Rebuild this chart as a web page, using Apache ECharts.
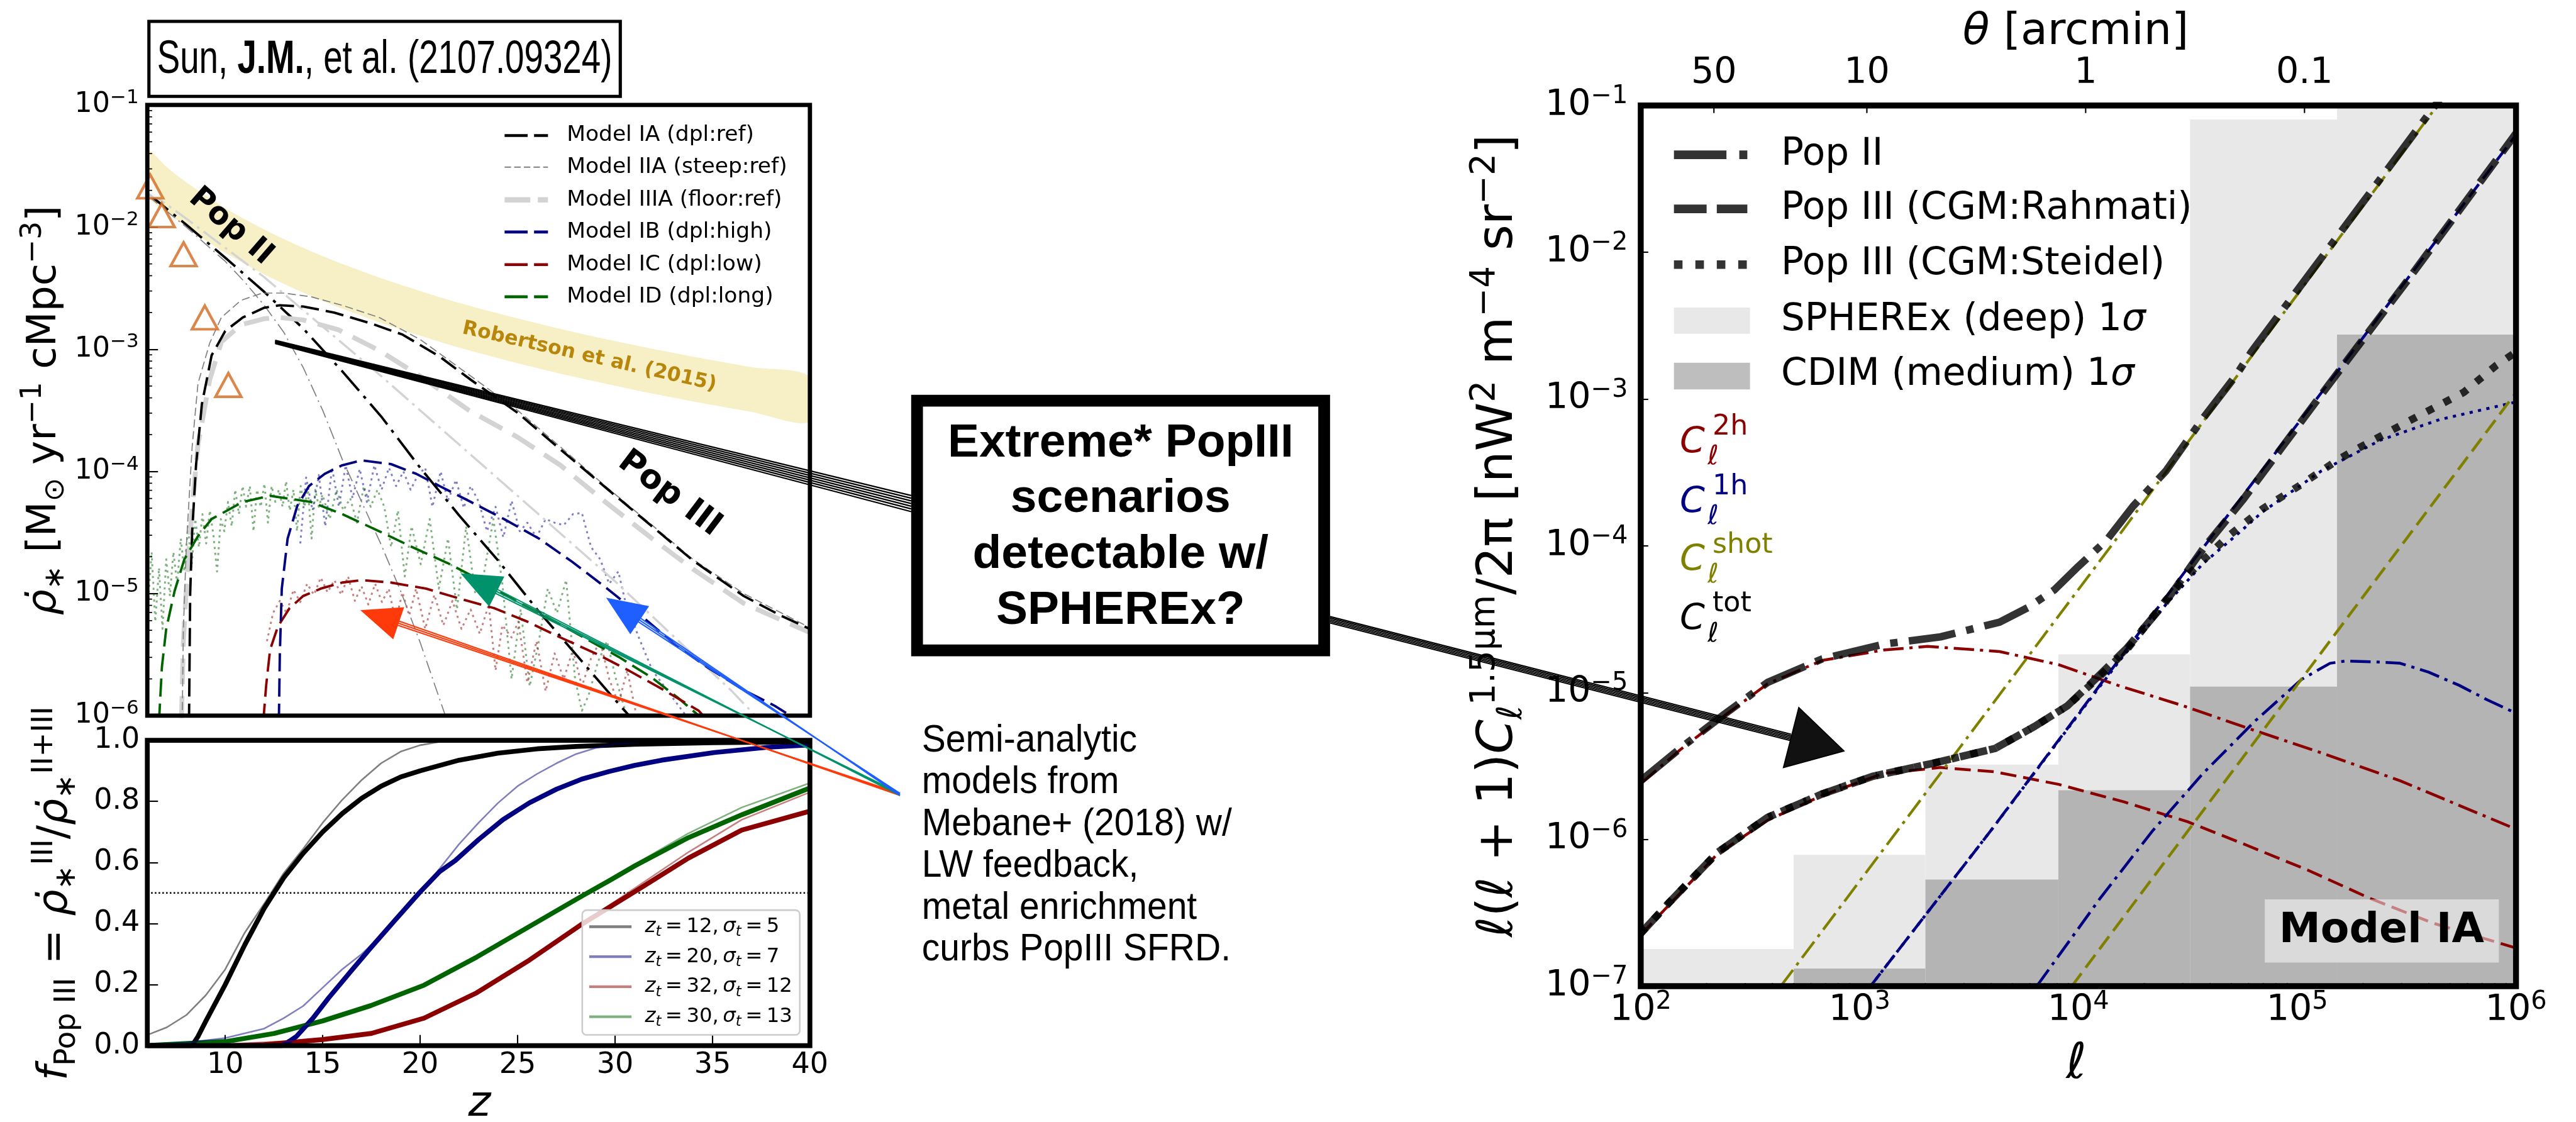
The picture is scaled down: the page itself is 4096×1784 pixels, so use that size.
<!DOCTYPE html>
<html>
<head>
<meta charset="utf-8">
<script src="https://cdn.jsdelivr.net/npm/echarts@6.0.0/dist/echarts.min.js"></script>
<style>
html,body{margin:0;padding:0;background:#ffffff;}
#chart{width:4096px;height:1784px;}
</style>
</head>
<body>
<div id="chart"></div>
<script>
// ================= DATA =================
// ---- Left-top panel: SFRD [M_sun yr^-1 cMpc^-3] vs z ; curves stored as [z, log10(rho_dot)] ----
const zRobertson = [6,7,8,9,10,11,12,13,14,15,16,18,20,22,25,28,31,34,37,40];
const robertsonUpper = [0.0426,0.031,0.0233,0.0181,0.0143,0.0116,0.00956,0.0080,0.00677,0.00579,0.0050,0.00382,0.0030,0.0024,0.00179,0.00137,0.00108,0.00087,0.000713,0.000594];
const robertsonLower = [0.0183,0.0133,0.0100,0.00777,0.00616,0.00499,0.00411,0.00344,0.00291,0.00249,0.00215,0.00164,0.00129,0.00103,0.000769,0.00059,0.000465,0.000374,0.000307,0.000255];
const obsTriangles = [[6.15,0.0215],[6.74,0.0125],[7.86,0.0060],[8.95,0.00182],[10.16,0.00051]];

const popII_IA   = [[6,-1.72],[8,-1.98],[10,-2.25],[12,-2.53],[14,-2.83],[16,-3.18],[18,-3.55],[20,-3.97],[22,-4.36],[24,-4.73],[26,-5.13],[28,-5.50],[30,-5.87],[31,-6.05]];
const popII_IIA  = [[6,-1.74],[8,-2.0],[10,-2.28],[11,-2.45],[12,-2.64],[13,-2.86],[14,-3.15],[15,-3.5],[16,-3.9],[17,-4.25],[18,-4.6],[19,-4.98],[20,-5.4],[21.4,-6.05]];
const popII_IIIA = [[6,-1.70],[8,-1.93],[10,-2.17],[12,-2.41],[14,-2.68],[16,-2.95],[18,-3.22],[20,-3.5],[22,-3.78],[24,-4.06],[26,-4.34],[28,-4.62],[30,-4.9],[32,-5.2],[34,-5.5],[36,-5.8],[37.5,-6.05]];

const popIII_IA   = [[8.14,-6.05],[8.2,-5.0],[8.3,-4.5],[8.5,-3.95],[8.8,-3.45],[9.3,-3.05],[10,-2.85],[10.9,-2.74],[12,-2.66],[12.8,-2.64],[14,-2.65],[15.6,-2.70],[17.5,-2.79],[19.1,-2.88],[21,-3.06],[22.6,-3.25],[25,-3.52],[27.2,-3.82],[29.5,-4.13],[31.9,-4.45],[34,-4.73],[36.6,-5.02],[38.5,-5.18],[40,-5.29]];
const popIII_IIA  = [[7.79,-6.05],[7.85,-5.3],[8.0,-4.62],[8.3,-3.8],[8.6,-3.28],[9.2,-2.95],[9.8,-2.74],[10.8,-2.6],[11.9,-2.54],[13,-2.54],[14.4,-2.57],[16,-2.64],[17.9,-2.74],[20,-2.92],[22.6,-3.22],[25,-3.5],[27.2,-3.8],[29.5,-4.12],[31.9,-4.44],[34,-4.72],[36.6,-5.0],[40,-5.28]];
const popIII_IIIA = [[7.75,-6.05],[7.85,-5.4],[8.0,-4.96],[8.3,-4.3],[8.6,-3.78],[9.2,-3.25],[9.8,-2.94],[10.8,-2.8],[12,-2.75],[12.8,-2.74],[14,-2.76],[15.8,-2.84],[17.9,-3.01],[20,-3.22],[22.5,-3.5],[25,-3.72],[27.2,-3.95],[29.5,-4.25],[31.9,-4.55],[34,-4.8],[36.6,-5.08],[40,-5.32]];
const popIII_IB = [[12.75,-6.05],[12.8,-5.5],[12.9,-4.96],[13.2,-4.55],[13.7,-4.28],[14.3,-4.12],[15.1,-4.02],[16,-3.95],[17,-3.91],[18.5,-3.94],[19.8,-4.02],[21,-4.12],[22.6,-4.25],[24.3,-4.39],[26.1,-4.55],[27.8,-4.74],[29.6,-4.96],[31.4,-5.19],[33.1,-5.42],[34.8,-5.61],[36.6,-5.79],[38.2,-5.92],[39.5,-6.05]];
const popIII_IC = [[11.95,-6.05],[12.1,-5.75],[12.3,-5.46],[12.7,-5.27],[13.3,-5.12],[14.0,-5.02],[14.9,-4.96],[16,-4.91],[17,-4.89],[18.5,-4.91],[20.3,-4.96],[22,-5.04],[23.8,-5.12],[25.5,-5.23],[27.2,-5.36],[29,-5.49],[30.7,-5.63],[32.5,-5.79],[34.3,-5.96],[34.8,-6.05]];
const popIII_ID = [[6.6,-6.05],[6.75,-5.6],[6.97,-5.29],[7.4,-4.98],[7.9,-4.72],[8.6,-4.53],[9.3,-4.39],[10.9,-4.25],[12.3,-4.20],[14.4,-4.25],[16,-4.35],[17.9,-4.49],[19.6,-4.62],[21.4,-4.75],[23.2,-4.9],[24.9,-5.06],[26.6,-5.2],[28.4,-5.36],[30.2,-5.52],[31.9,-5.69],[33.2,-5.85],[34.3,-6.0],[34.6,-6.05]];

const dotBlue = [[13.85,-4.59],[14.15,-4.05],[14.48,-4.32],[14.80,-4.03],[15.13,-4.45],[15.48,-3.97],[15.83,-4.29],[16.18,-3.95],[16.53,-4.22],[16.90,-3.98],[17.27,-4.25],[17.65,-3.95],[18.02,-4.15],[18.40,-3.97],[18.77,-4.12],[19.14,-4.00],[19.51,-4.15],[19.89,-4.03],[20.26,-3.97],[20.63,-4.29],[21.05,-4.00],[21.42,-4.24],[21.84,-4.07],[22.24,-4.30],[22.59,-4.12],[23.01,-4.25],[23.43,-4.49],[23.87,-4.29],[24.27,-4.54],[24.69,-4.24],[25.11,-4.49],[25.50,-4.42],[25.97,-4.54],[26.44,-4.39],[26.90,-4.42],[27.37,-4.44],[27.84,-4.35],[28.30,-4.34],[28.77,-4.62],[29.24,-4.72],[29.70,-4.92],[30.17,-4.82],[30.52,-5.06],[31.22,-5.36],[31.92,-5.63],[32.85,-5.83],[33.78,-6.03]];
const dotRed = [[12.14,-5.39],[12.45,-5.16],[12.80,-5.06],[13.15,-5.16],[13.50,-4.97],[13.85,-5.07],[14.20,-4.92],[14.55,-5.01],[14.90,-4.87],[15.25,-4.99],[15.60,-4.89],[15.95,-5.01],[16.30,-4.86],[16.65,-5.06],[16.99,-4.94],[17.34,-5.09],[17.69,-4.92],[18.04,-5.07],[18.39,-4.96],[18.74,-5.23],[19.09,-4.99],[19.44,-5.18],[19.79,-4.96],[20.26,-5.29],[20.73,-5.01],[21.19,-5.26],[21.66,-5.06],[22.12,-5.29],[22.59,-5.13],[23.06,-5.33],[23.52,-5.09],[23.87,-5.63],[24.22,-5.26],[24.69,-5.36],[25.04,-5.23],[25.50,-5.73],[25.97,-5.39],[26.44,-5.80],[26.90,-5.49],[27.37,-5.70],[27.84,-5.46],[28.30,-5.76],[28.77,-5.53],[29.24,-5.39],[29.70,-5.70],[30.17,-5.90],[30.63,-5.63],[31.10,-6.0]];
const dotGreen = [[6.04,-5.09],[6.22,-4.66],[6.41,-5.23],[6.60,-4.79],[6.78,-5.29],[6.97,-4.72],[7.16,-5.02],[7.34,-4.66],[7.53,-4.92],[7.72,-4.55],[7.90,-4.82],[8.09,-4.45],[8.27,-4.79],[8.46,-4.39],[8.65,-4.62],[8.83,-4.35],[9.02,-4.59],[9.21,-4.32],[9.39,-4.52],[9.58,-4.82],[9.77,-4.39],[9.95,-4.49],[10.14,-4.25],[10.33,-4.45],[10.51,-4.15],[10.70,-4.35],[10.89,-4.12],[11.07,-4.29],[11.26,-4.12],[11.45,-4.49],[11.63,-4.15],[11.82,-4.29],[12.01,-4.10],[12.19,-4.42],[12.38,-4.12],[12.57,-4.25],[12.75,-4.15],[12.94,-4.29],[13.12,-4.08],[13.31,-4.32],[13.50,-4.15],[13.68,-4.49],[13.87,-4.12],[14.06,-4.29],[14.24,-4.15],[14.43,-4.55],[14.62,-4.15],[14.80,-4.29],[14.99,-4.19],[15.36,-4.39],[15.71,-4.15],[16.06,-4.32],[16.41,-4.22],[16.76,-4.42],[17.11,-4.12],[17.46,-4.29],[17.81,-4.15],[18.16,-4.29],[18.51,-4.62],[18.86,-4.32],[19.21,-4.86],[19.56,-4.45],[20.03,-4.76],[20.49,-4.39],[20.96,-4.96],[21.43,-4.55],[21.89,-5.13],[22.36,-4.45],[22.82,-4.99],[23.29,-4.82],[23.76,-4.39],[24.22,-4.92],[24.69,-5.70],[25.16,-5.13],[25.62,-5.76],[26.09,-5.39],[26.55,-4.96],[27.02,-5.16],[27.49,-4.89],[27.95,-5.70],[28.30,-5.96],[28.65,-5.83],[29.12,-5.56],[29.59,-5.39],[30.05,-5.70],[30.52,-5.96]];

// ---- Left-bottom panel: f_PopIII vs z ; [z, f] ----
const fracThinGray  = [[6,0.035],[7,0.06],[8,0.10],[9,0.165],[10,0.25],[11,0.37],[12,0.465],[13,0.565],[14,0.645],[15,0.73],[16,0.805],[17,0.87],[18,0.925],[19,0.963],[20,0.984],[21,0.995],[22,1.0],[40,1.0]];
const fracThinBlue  = [[6,0.005],[8,0.01],[10,0.025],[12,0.056],[13,0.09],[14,0.13],[15,0.19],[16,0.25],[17,0.3],[18,0.36],[19,0.43],[20,0.5],[21,0.58],[22,0.66],[23,0.73],[24,0.795],[25,0.85],[26,0.89],[27,0.925],[28,0.955],[29,0.975],[30,0.988],[32,0.997],[34,1.0],[40,1.0]];
const fracThinRed   = [[6,0.002],[10,0.005],[15,0.02],[17.5,0.04],[20.2,0.09],[22.9,0.173],[25.6,0.28],[28.3,0.40],[31,0.515],[33.8,0.635],[36.5,0.74],[40,0.83]];
const fracThinGreen = [[6,0.005],[10,0.016],[12.5,0.042],[15,0.083],[17.5,0.133],[20.2,0.2],[22.9,0.292],[25.6,0.392],[28.3,0.492],[31.05,0.595],[33.76,0.695],[36.5,0.78],[40,0.86]];
const fracIA = [[6,0],[8.3,0],[8.6,0.03],[9,0.08],[10,0.2],[11,0.33],[12,0.45],[13,0.55],[14,0.63],[15,0.70],[16,0.76],[17,0.81],[18,0.85],[19,0.88],[20,0.90],[22,0.935],[24,0.958],[26,0.972],[28,0.98],[31,0.987],[35,0.992],[40,0.995]];
const fracIB = [[6,0],[12.9,0],[13.3,0.015],[13.65,0.03],[14.5,0.09],[15.3,0.156],[16.4,0.24],[17.46,0.32],[18.7,0.41],[19.95,0.5],[21,0.57],[21.8,0.606],[23,0.675],[24.25,0.74],[25.6,0.795],[27,0.84],[28.3,0.873],[29.7,0.898],[31,0.918],[32.4,0.935],[35.1,0.96],[37.8,0.977],[40,0.985]];
const fracIC = [[10.4,0],[12,0.003],[15,0.02],[17.5,0.04],[20.2,0.09],[22.9,0.173],[25.6,0.28],[28.3,0.398],[31.05,0.506],[33.76,0.614],[36.5,0.706],[40,0.768]];
const fracID = [[6,0],[6.5,0.002],[10.1,0.014],[12.5,0.04],[15,0.081],[17.46,0.131],[20.2,0.198],[22.9,0.29],[25.6,0.39],[28.3,0.49],[29.7,0.54],[31.05,0.59],[33.76,0.681],[36.5,0.756],[40,0.844]];
const fracHalf = [[6,0.5],[40,0.5]];

// ---- Right panel: l(l+1)C_l/2pi vs l ; curves stored as [log10(l), log10(value)] ----
const popII_tot = [[2.0,-5.60],[2.18,-5.38],[2.38,-5.15],[2.58,-4.93],[2.83,-4.77],[3.11,-4.67],[3.37,-4.62],[3.64,-4.52],[3.77,-4.42],[3.89,-4.30],[4.0,-4.14],[4.13,-3.96],[4.25,-3.73],[4.40,-3.49],[4.57,-3.13],[4.72,-2.84],[4.79,-2.68],[5.0,-2.26],[5.3,-1.66],[5.65,-0.96]];
const popII_2h  = [[2.0,-5.62],[2.18,-5.39],[2.38,-5.16],[2.58,-4.94],[2.83,-4.78],[3.11,-4.71],[3.31,-4.685],[3.64,-4.72],[3.91,-4.81],[4.18,-4.95],[4.48,-5.09],[4.75,-5.23],[5.11,-5.41],[5.47,-5.60],[6.0,-5.93]];
const popII_1h  = [[3.81,-7.0],[4.10,-6.4],[4.34,-5.94],[4.57,-5.55],[4.81,-5.19],[5.02,-4.91],[5.15,-4.80],[5.22,-4.785],[5.35,-4.79],[5.47,-4.80],[5.60,-4.86],[5.74,-4.95],[5.87,-5.05],[6.0,-5.14]];
const popII_shot = [[2.64,-7.0],[4.16,-3.98],[5.65,-0.98]];
const popIII_R_tot = [[2.0,-6.64],[2.13,-6.43],[2.35,-6.09],[2.58,-5.85],[2.83,-5.69],[3.06,-5.57],[3.34,-5.48],[3.62,-5.38],[3.80,-5.23],[3.95,-5.09],[4.09,-4.89],[4.22,-4.70],[4.40,-4.38],[4.57,-4.02],[4.75,-3.69],[4.93,-3.33],[5.11,-2.97],[5.5,-2.2],[6.0,-1.19]];
const popIII_R_2h  = [[2.0,-6.65],[2.35,-6.10],[2.58,-5.87],[2.83,-5.70],[3.11,-5.55],[3.37,-5.51],[3.62,-5.54],[3.91,-5.625],[4.21,-5.745],[4.50,-5.88],[4.77,-6.04],[5.05,-6.21],[5.33,-6.40],[5.62,-6.57],[6.0,-6.74]];
const popIII_R_1h  = [[3.05,-7.0],[3.6,-5.94],[4.5,-4.15],[5.17,-2.84],[6.0,-1.20]];
const popIII_shot  = [[3.97,-7.0],[5.51,-3.93],[6.0,-2.955]];
const popIII_S_tot = [[2.0,-6.64],[2.13,-6.43],[2.35,-6.09],[2.58,-5.85],[2.83,-5.69],[3.06,-5.57],[3.34,-5.48],[3.62,-5.38],[3.80,-5.23],[3.95,-5.09],[4.09,-4.90],[4.22,-4.71],[4.40,-4.37],[4.50,-4.20],[4.68,-3.94],[4.84,-3.75],[5.01,-3.59],[5.18,-3.42],[5.26,-3.35],[5.51,-3.15],[5.76,-2.955],[5.91,-2.77],[6.0,-2.68]];
const popIII_S_1h  = [[3.05,-7.0],[3.6,-5.94],[4.0,-5.15],[4.2,-4.76],[4.4,-4.40],[4.57,-4.12],[4.72,-3.93],[4.84,-3.77],[5.11,-3.49],[5.38,-3.28],[5.65,-3.14],[6.0,-3.02]];
// sensitivity boxes: [l_min, l_max, upper value]
const spherexBins = [[100,500,1.79e-7],[500,2000,7.85e-7],[2000,8100,3.23e-6],[8100,32400,1.82e-5],[32400,152000,0.0804],[152000,1e6,0.1]];
const cdimBins    = [[500,2000,1.32e-7],[2000,8100,5.33e-7],[8100,32400,2.16e-6],[32400,152000,1.10e-5],[152000,1e6,2.75e-3]];
// top axis: theta [arcmin] tick labels ; l = 10800 / theta (pi rad = 10800 arcmin)
const thetaTicks = [50, 10, 1, 0.1];
const ARCMIN_PER_PI = 10800;

// ---- Text ----
const legendLeftLabels = ['Model IA (dpl:ref)','Model IIA (steep:ref)','Model IIIA (floor:ref)','Model IB (dpl:high)','Model IC (dpl:low)','Model ID (dpl:long)'];
const legendFracLabels = [['12','5'],['20','7'],['32','12'],['30','13']];
const legendRightLabels = ['Pop II','Pop III (CGM:Rahmati)','Pop III (CGM:Steidel)','SPHEREx (deep) 1','CDIM (medium) 1'];
const semiText = ['Semi-analytic','models from','Mebane+ (2018) w/','LW feedback,','metal enrichment','curbs PopIII SFRD.'];
const boxText = ['Extreme* PopIII','scenarios','detectable w/','SPHEREx?'];

// ================= RENDERING =================
const S = 4096 / 4809;
const px = v => v * S;
const FONT = 'DejaVu Sans';
const LIB = 'Liberation Sans';
const GR = {
  sfrd: {l:275, t:196, w:1237, h:1140},
  frac: {l:275, t:1382, w:1237, h:570},
  cl:   {l:3063, t:197, w:1634, h:1644}
};
const Y_MIN_R = 1e-7, Y_MAX_R = 1e-1, Z_MIN = 6;

const toZ = a => a.map(p => [p[0], Math.pow(10, p[1])]);
const toL = a => a.map(p => [Math.pow(10, p[0]), Math.pow(10, p[1])]);

function line(data, xi, yi, color, w, dash, z) {
  return {type:'line', xAxisIndex:xi, yAxisIndex:yi, data, showSymbol:false, symbol:'none', silent:true,
    animation:false, clip:true, z:z||3, emphasis:{disabled:true},
    lineStyle:{color, width:px(w), type: dash ? dash.map(px) : 'solid', cap:'butt', join:'round'}};
}
function logLabel(v){ const e = Math.round(Math.log10(v)); return '{b|10}{s|' + (e < 0 ? '\u2212' + (-e) : String(e)) + '}'; }
function logRich(F){ return { b:{fontSize:F, lineHeight:F*1.2, fontFamily:FONT, color:'#000'}, s:{fontSize:F*0.7, lineHeight:F*0.6, verticalAlign:'top', fontFamily:FONT, color:'#000'} }; }
function gRich(F, fam){
  fam = fam || FONT;
  const base = {fontFamily:fam, fill:'#000'};
  return {
    r:  Object.assign({fontSize:F, lineHeight:F*1.25}, base),
    i:  Object.assign({fontSize:F, lineHeight:F*1.25, fontStyle:'italic'}, base),
    b:  Object.assign({fontSize:F, lineHeight:F*1.25, fontWeight:'bold'}, base),
    sp: Object.assign({fontSize:F*0.7, lineHeight:F*0.62, verticalAlign:'top'}, base),
    sb: Object.assign({fontSize:F*0.7, lineHeight:F*0.62, verticalAlign:'bottom'}, base),
    sbi:Object.assign({fontSize:F*0.7, lineHeight:F*0.62, verticalAlign:'bottom', fontStyle:'italic'}, base)
  };
}
const tickStyle = {color:'#000', width:px(2.5)};
const noLine = {show:false};

function minorTicks(xi, yi, values, dir, len) {
  return {type:'custom', xAxisIndex:xi, yAxisIndex:yi, clip:false, silent:true, z:6,
    data: values,
    renderItem: (p, api) => {
      const c = api.coord([api.value(0), api.value(1)]);
      const sh = dir === 'y' ? {x1:c[0], y1:c[1], x2:c[0] + px(len), y2:c[1]} : {x1:c[0], y1:c[1], x2:c[0], y2:c[1] - px(len)};
      return {type:'line', shape:sh, style:{stroke:'#000', lineWidth:px(2)}};
    }};
}
const minorY0 = [], minorX2 = [];
for (let e = -6; e <= -2; e++) for (let m = 2; m <= 9; m++) minorY0.push([Z_MIN, m * Math.pow(10, e)]);
for (let e = 2; e <= 5; e++) for (let m = 2; m <= 9; m++) minorX2.push([m * Math.pow(10, e), Y_MIN_R]);

function boxSeries(bins, color) {
  return {type:'custom', xAxisIndex:2, yAxisIndex:2, clip:true, silent:true, z:1,
    data: bins.map(b => [b[0], b[2], b[1]]),
    renderItem: (p, api) => {
      const a = api.coord([api.value(0), api.value(1)]);
      const b = api.coord([api.value(2), Y_MIN_R]);
      return {type:'rect', shape:{x:a[0], y:a[1], width:b[0]-a[0], height:b[1]-a[1]}, style:{fill:color}};
    }};
}

const DK = '#000000', GRY = '#808080', LG = '#d3d3d3', NAVY = '#000080', DR = '#8b0000', DG = '#006400', OL = '#808000';
const THICK = 'rgba(0,0,0,0.8)';

const series = [
  // ----- grid 0 -----
  {type:'custom', xAxisIndex:0, yAxisIndex:0, clip:true, silent:true, z:1, data:[[zRobertson[0], robertsonUpper[0]]],
   renderItem: (p, api) => {
     const pts = [];
     for (let i = 0; i < zRobertson.length; i++) pts.push(api.coord([zRobertson[i], robertsonUpper[i]]));
     for (let i = zRobertson.length - 1; i >= 0; i--) pts.push(api.coord([zRobertson[i], robertsonLower[i]]));
     return {type:'polygon', shape:{points:pts, smooth:0.3}, style:{fill:'rgba(238,221,130,0.45)'}};
   }},
  line(toZ(dotGreen), 0, 0, 'rgba(0,100,0,0.5)', 3.5, [4,7]),
  line(toZ(dotBlue), 0, 0, 'rgba(0,0,139,0.5)', 3.5, [4,7]),
  line(toZ(dotRed), 0, 0, 'rgba(139,0,0,0.5)', 3.5, [4,7]),
  line(toZ(popII_IIIA), 0, 0, LG, 4, [40,10,5,10]),
  line(toZ(popII_IIA), 0, 0, GRY, 2, [24,8,3,8]),
  line(toZ(popII_IA), 0, 0, DK, 4.5, [50,13,6,13]),
  line(toZ(popIII_IIIA), 0, 0, LG, 9, [48,22]),
  line(toZ(popIII_IIA), 0, 0, GRY, 2, [15,7]),
  line(toZ(popIII_IA), 0, 0, DK, 4.5, [34,13]),
  line(toZ(popIII_ID), 0, 0, DG, 4.5, [34,13]),
  line(toZ(popIII_IC), 0, 0, DR, 4.5, [34,13]),
  line(toZ(popIII_IB), 0, 0, NAVY, 4.5, [34,13]),
  {type:'scatter', xAxisIndex:0, yAxisIndex:0, data:obsTriangles, symbol:'triangle', symbolSize:[px(48), px(44)],
   itemStyle:{color:'#ffffff', borderColor:'#d2691e', borderWidth:px(5)}, silent:true, z:5, clip:false},
  minorTicks(0, 0, minorY0, 'y', 9),
  // ----- grid 1 -----
  line(fracID, 1, 1, DG, 9, null),
  line(fracIC, 1, 1, DR, 9, null),
  line(fracIB, 1, 1, NAVY, 9, null),
  line(fracIA, 1, 1, DK, 9, null),
  line(fracThinGreen, 1, 1, 'rgba(0,100,0,0.5)', 3, null, 4),
  line(fracThinRed, 1, 1, 'rgba(139,0,0,0.5)', 3, null, 4),
  line(fracThinBlue, 1, 1, 'rgba(0,0,128,0.5)', 3, null, 4),
  line(fracThinGray, 1, 1, 'rgba(0,0,0,0.5)', 3, null, 4),
  line(fracHalf, 1, 1, DK, 3, [3,4], 2),
  // ----- grid 2 -----
  boxSeries(spherexBins, '#e8e8e8'),
  boxSeries(cdimBins, '#b4b4b4'),
  line(toL(popII_2h), 2, 2, DR, 5.3, [38,11,6,11]),
  line(toL(popIII_R_2h), 2, 2, DR, 5.3, [30,13]),
  line(toL(popII_1h), 2, 2, NAVY, 5.3, [38,11,6,11]),
  line(toL(popIII_R_1h), 2, 2, NAVY, 5.3, [30,13]),
  line(toL(popIII_S_1h), 2, 2, NAVY, 5.3, [6,10]),
  line(toL(popII_shot), 2, 2, OL, 5, [38,11,6,11]),
  line(toL(popIII_shot), 2, 2, OL, 5.3, [30,13]),
  line(toL(popII_tot), 2, 2, THICK, 14, [88,21,14,21], 5),
  line(toL(popIII_R_tot), 2, 2, THICK, 14, [52,18], 5),
  line(toL(popIII_S_tot), 2, 2, THICK, 14, [14,22], 5),
  minorTicks(2, 2, minorX2, 'x', 6),
  {type:'custom', xAxisIndex:2, yAxisIndex:2, clip:false, silent:true, z:6,
   data: thetaTicks.map(t => [ARCMIN_PER_PI / t, Y_MAX_R, t]),
   renderItem: (p, api) => {
     const c = api.coord([api.value(0), api.value(1)]);
     return {type:'group', children:[
       {type:'line', shape:{x1:c[0], y1:c[1], x2:c[0], y2:c[1] + px(14)}, style:{stroke:'#000', lineWidth:px(2.5)}},
       {type:'text', x:c[0], y:c[1] - px(60), style:{text:String(api.value(2)), align:'center', verticalAlign:'middle', fontSize:px(67), fontFamily:FONT, fill:'#000'}}
     ]};
   }}
];

const option = {
  animation:false,
  backgroundColor:'#ffffff',
  textStyle:{fontFamily:FONT},
  grid: Object.keys(GR).map(k => ({left:px(GR[k].l), top:px(GR[k].t), width:px(GR[k].w), height:px(GR[k].h), show:false, containLabel:false, outerBoundsMode:'none'})),
  xAxis: [
    {gridIndex:0, type:'value', min:6, max:40, axisLine:noLine, axisTick:{show:false}, axisLabel:{show:false}, splitLine:{show:false}},
    {gridIndex:1, type:'value', min:6, max:40, splitNumber:7, axisLine:noLine,
     axisTick:{show:true, inside:true, length:px(20), lineStyle:tickStyle},
     axisLabel:{margin:px(10), color:'#000', fontFamily:FONT, fontSize:px(54), formatter: v => (v % 5 === 0 ? String(v) : '')}, splitLine:{show:false}},
    {gridIndex:2, type:'log', logBase:10, min:100, max:1e6, axisLine:noLine,
     axisTick:{show:true, inside:true, length:px(14), lineStyle:tickStyle},
     axisLabel:{margin:px(6), color:'#000', formatter:logLabel, rich:logRich(px(67)), showMinLabel:true, showMaxLabel:true, interval:0},
     splitLine:{show:false}, minorTick:{show:false}}
  ],
  yAxis: [
    {gridIndex:0, type:'log', logBase:10, min:1e-6, max:1e-1, axisLine:noLine,
     axisTick:{show:true, inside:true, length:px(20), lineStyle:tickStyle},
     axisLabel:{margin:px(16), color:'#000', formatter:logLabel, rich:logRich(px(52)), showMinLabel:true, showMaxLabel:true, interval:0},
     splitLine:{show:false}, minorTick:{show:false}},
    {gridIndex:1, type:'value', min:0, max:1, interval:0.2, axisLine:noLine,
     axisTick:{show:true, inside:true, length:px(20), lineStyle:tickStyle},
     axisLabel:{margin:px(14), color:'#000', fontFamily:FONT, fontSize:px(54), formatter: v => v.toFixed(1)}, splitLine:{show:false}},
    {gridIndex:2, type:'log', logBase:10, min:1e-7, max:1e-1, axisLine:noLine,
     axisTick:{show:true, inside:true, length:px(14), lineStyle:tickStyle},
     axisLabel:{margin:px(24), color:'#000', formatter:logLabel, rich:logRich(px(67)), showMinLabel:true, showMaxLabel:true, interval:0},
     splitLine:{show:false}, minorTick:{show:false}}
  ],
  series
};

const chart = echarts.init(document.getElementById('chart'), null, {renderer:'canvas', width:4096, height:1784});
chart.setOption(option);

// ================= ANNOTATIONS (graphic) =================
const c0 = (x, y) => chart.convertToPixel({gridIndex:0}, [x, y]);
const c2 = (x, y) => chart.convertToPixel({gridIndex:2}, [x, y]);
const g = [];
function T(x, y, text, o) {
  o = o || {};
  g.push({type:'text', x, y, rotation:o.rot || 0, scaleX:o.sx || 1, z:o.z || 70, silent:true,
    style:Object.assign({x:0, y:0, text, align:o.align || 'center', verticalAlign:'middle', fill:o.fill || '#000',
      fontSize:o.size, fontFamily:o.family || FONT, fontWeight:o.weight || 'normal', fontStyle:o.style || 'normal'}, o.rich ? {rich:o.rich} : {})});
}
function Ln(x1, y1, x2, y2, stroke, w, dash, z) {
  g.push({type:'line', z:z || 70, silent:true, shape:{x1, y1, x2, y2}, style:{stroke, lineWidth:w, lineDash:dash || null, lineCap:'butt'}});
}
function Rc(x, y, w, h, style, z, r) { g.push({type:'rect', z:z || 70, silent:true, shape:{x, y, width:w, height:h, r:r || 0}, style}); }

// frames
Rc(px(GR.sfrd.l), px(GR.sfrd.t), px(GR.sfrd.w), px(GR.sfrd.h), {fill:'none', stroke:'#000', lineWidth:px(8)}, 50);
Rc(px(GR.frac.l), px(GR.frac.t), px(GR.frac.w), px(GR.frac.h), {fill:'none', stroke:'#000', lineWidth:px(9)}, 50);
Rc(px(GR.cl.l), px(GR.cl.t), px(GR.cl.w), px(GR.cl.h), {fill:'none', stroke:'#000', lineWidth:px(11)}, 50);

// title box (condensed lettering)
Rc(px(278), px(40), px(880), px(140), {fill:'#fff', stroke:'#000', lineWidth:px(6)}, 60);
T(px(718), px(112), '{r|Sun, }{b|J.M.}{r|, et al. (2107.09324)}', {size:px(88), family:LIB, rich:gRich(px(88), LIB), sx:0.73, z:61});

// axis titles
T(px(84), px(766), '{i|\u03c1\u0307}{sb|\u2217}{r| [M}{sb|\u2299}{r| yr}{sp|\u22121}{r| cMpc}{sp|\u22123}{r|]}', {size:px(76), rot:Math.PI/2, rich:gRich(px(76))});
T(px(104), px(1668), '{i|f}{sb|Pop III}{r| = }{i|\u03c1\u0307}{sb|\u2217}{sp|III}{r|/}{i|\u03c1\u0307}{sb|\u2217}{sp|II+III}', {size:px(78), rot:Math.PI/2, rich:gRich(px(78))});
T(px(895), px(2062), '{i|z}', {size:px(80), rich:gRich(px(80))});
T(px(2798), px(1000), '{i|\u2113}{r|(}{i|\u2113}{r| + 1)}{i|C}{sbi|\u2113}{sp|1.5\u03bcm}{r|/2\u03c0 [nW}{sp|2}{r| m}{sp|\u22124}{r| sr}{sp|\u22122}{r|]}', {size:px(92), rot:Math.PI/2, rich:gRich(px(92))});
T(px(3875), px(61), '{i|\u03b8}{r| [arcmin]}', {size:px(82), rich:gRich(px(82))});
T(px(3876), px(1988), '{i|\u2113}', {size:px(92), rich:gRich(px(92))});

// left-top legend
const legL = [
  {c:DK, w:5.5, d:[43,12]}, {c:GRY, w:2.5, d:[12,6]}, {c:LG, w:10, d:[48,14]},
  {c:NAVY, w:5.5, d:[43,12]}, {c:DR, w:5.5, d:[43,12]}, {c:DG, w:5.5, d:[43,12]}
];
const legLY = [253, 312, 373, 433, 494, 554];
legL.forEach((s, i) => {
  Ln(px(942), px(legLY[i]), px(1023), px(legLY[i]), s.c, px(s.w), s.d.map(px), 65);
  T(px(1058), px(legLY[i]), legendLeftLabels[i], {size:px(40.5), align:'left', z:65});
});

// in-panel labels (anchored to data coordinates)
let p = c0(10.29, Math.pow(10, -1.996));
T(p[0], p[1], 'Pop II', {size:px(58), weight:'bold', rot:-41 * Math.PI / 180, z:64});
p = c0(32.8, Math.pow(10, -4.184));
T(p[0], p[1], 'Pop III', {size:px(62), weight:'bold', rot:-37 * Math.PI / 180, z:64});
p = c0(28.68, Math.pow(10, -3.061));
T(p[0], p[1], 'Robertson et al. (2015)', {size:px(37), weight:'bold', fill:'#b8860b', rot:-12.7 * Math.PI / 180, z:64});

// bottom legend
Rc(px(1087), px(1699), px(406), px(233), {fill:'rgba(255,255,255,0.8)', stroke:'#cccccc', lineWidth:px(3)}, 62, px(8));
const legFC = ['rgba(0,0,0,0.5)', 'rgba(0,0,128,0.5)', 'rgba(139,0,0,0.5)', 'rgba(0,100,0,0.5)'];
const legFY = [1730, 1786, 1842, 1898];
legendFracLabels.forEach((lab, i) => {
  Ln(px(1100), px(legFY[i]), px(1179), px(legFY[i]), legFC[i], px(5), null, 63);
  T(px(1204), px(legFY[i]), '{i|z}{sbi|t}{r|\u2009=\u2009' + lab[0] + ',\u2009}{i|\u03c3}{sbi|t}{r|\u2009=\u2009' + lab[1] + '}', {size:px(38), align:'left', rich:gRich(px(38)), z:63});
});

// right legend
Ln(px(3125), px(289), px(3262), px(289), THICK, px(16), [98,24,15,24].map(px), 65);
Ln(px(3125), px(390), px(3262), px(390), THICK, px(16), [61,19].map(px), 65);
Ln(px(3125), px(494), px(3262), px(494), THICK, px(16), [16,24].map(px), 65);
Rc(px(3125), px(574), px(142), px(49), {fill:'#e8e8e8'}, 65);
Rc(px(3125), px(677), px(142), px(50), {fill:'#bebebe'}, 65);
const legRY = [289, 390, 494, 598, 700];
legendRightLabels.forEach((t, i) => {
  const txt = i >= 3 ? '{r|' + t + '}{i|\u03c3}' : '{r|' + t + '}';
  T(px(3325), px(legRY[i]), txt, {size:px(70), align:'left', rich:gRich(px(70)), z:65});
});
// C_l labels
const cLab = ['2h', '1h', 'shot', 'tot'], cCol = [DR, NAVY, OL, '#000'], cY = [828, 939, 1048, 1158];
cLab.forEach((t, i) => {
  T(px(3136), px(cY[i]), 'C', {size:px(67), style:'italic', align:'left', fill:cCol[i], z:65});
  T(px(3197), px(cY[i] - 30), t, {size:px(52), align:'left', fill:cCol[i], z:65});
  T(px(3188), px(cY[i] + 26), '\u2113', {size:px(50), style:'italic', align:'left', fill:cCol[i], z:65});
});
// Model IA label
Rc(px(4228), px(1679), px(437), px(118), {fill:'rgba(255,255,255,0.5)'}, 45);
T(px(4446), px(1738), 'Model IA', {size:px(78), weight:'bold', z:46});

// ---- sketchy connector lines and arrows ----
function arrowPts(tip, from, L, W) {
  const dx = tip[0] - from[0], dy = tip[1] - from[1], n = Math.hypot(dx, dy), ux = dx / n, uy = dy / n;
  const bx = tip[0] - ux * L, by = tip[1] - uy * L, nx = -uy, ny = ux;
  return {back:[bx, by], n:[nx, ny], pts:[[tip[0], tip[1]], [bx + nx * W, by + ny * W], [bx - nx * W, by - ny * W]]};
}
// left: from Pop III curve to the question box
const pStart = c0(12.56, Math.pow(10, -2.94));
const pBoxL = [px(1701), px(940)];
for (let k = -3; k <= 3; k++) Ln(pStart[0], pStart[1] + k * px(1), pBoxL[0], pBoxL[1] + k * px(5), '#000', px(2.5), null, 55);
// right: from the question box to the arrow in the C_l panel
const pBoxR = [px(2483), px(1157)];
const tipR = c2(Math.pow(10, 2.929), Math.pow(10, -5.398));
const aR = arrowPts(tipR, pBoxR, px(102), px(58));
for (let k = -2; k <= 2; k++) Ln(pBoxR[0], pBoxR[1] + k * px(3), aR.back[0], aR.back[1] + k * px(3), '#000', px(2.5), null, 55);
g.push({type:'polygon', z:56, silent:true, shape:{points:aR.pts}, style:{fill:'#111', stroke:'#000', lineWidth:px(2)}});
// coloured arrows from the text to the Pop III curves
const origin = [px(1680), px(1483)];
const arrowsTo = [[17.0, -5.14, '#ff3a0a'], [22.14, -4.84, '#00936b'], [29.6, -5.04, '#1f5fff']];
arrowsTo.forEach(a => {
  const tip = c0(a[0], Math.pow(10, a[1]));
  const ar = arrowPts(tip, origin, px(72), px(30));
  for (let k = -1; k <= 1; k++) Ln(origin[0], origin[1] + k * px(2), ar.back[0] + ar.n[0] * k * px(4), ar.back[1] + ar.n[1] * k * px(4), a[2], px(2.5), null, 57);
  g.push({type:'polygon', z:57, silent:true, shape:{points:ar.pts}, style:{fill:a[2], stroke:a[2], lineWidth:px(2)}});
});

// question box
Rc(px(1712), px(748), px(760), px(466), {fill:'#fff', stroke:'#000', lineWidth:px(22)}, 60);
const bl = [858, 962, 1066, 1170];
boxText.forEach((t, i) => T(px(2092), px(bl[i] - 30), t, {size:px(88), family:LIB, weight:'bold', z:61}));
// semi-analytic note
const sb = [1383, 1461, 1539, 1617, 1695, 1773];
semiText.forEach((t, i) => T(px(1721), px(sb[i]), t, {size:px(72), family:LIB, align:'left', sx:0.93, z:61}));

chart.setOption({graphic:{elements:g}});
</script>
</body>
</html>
